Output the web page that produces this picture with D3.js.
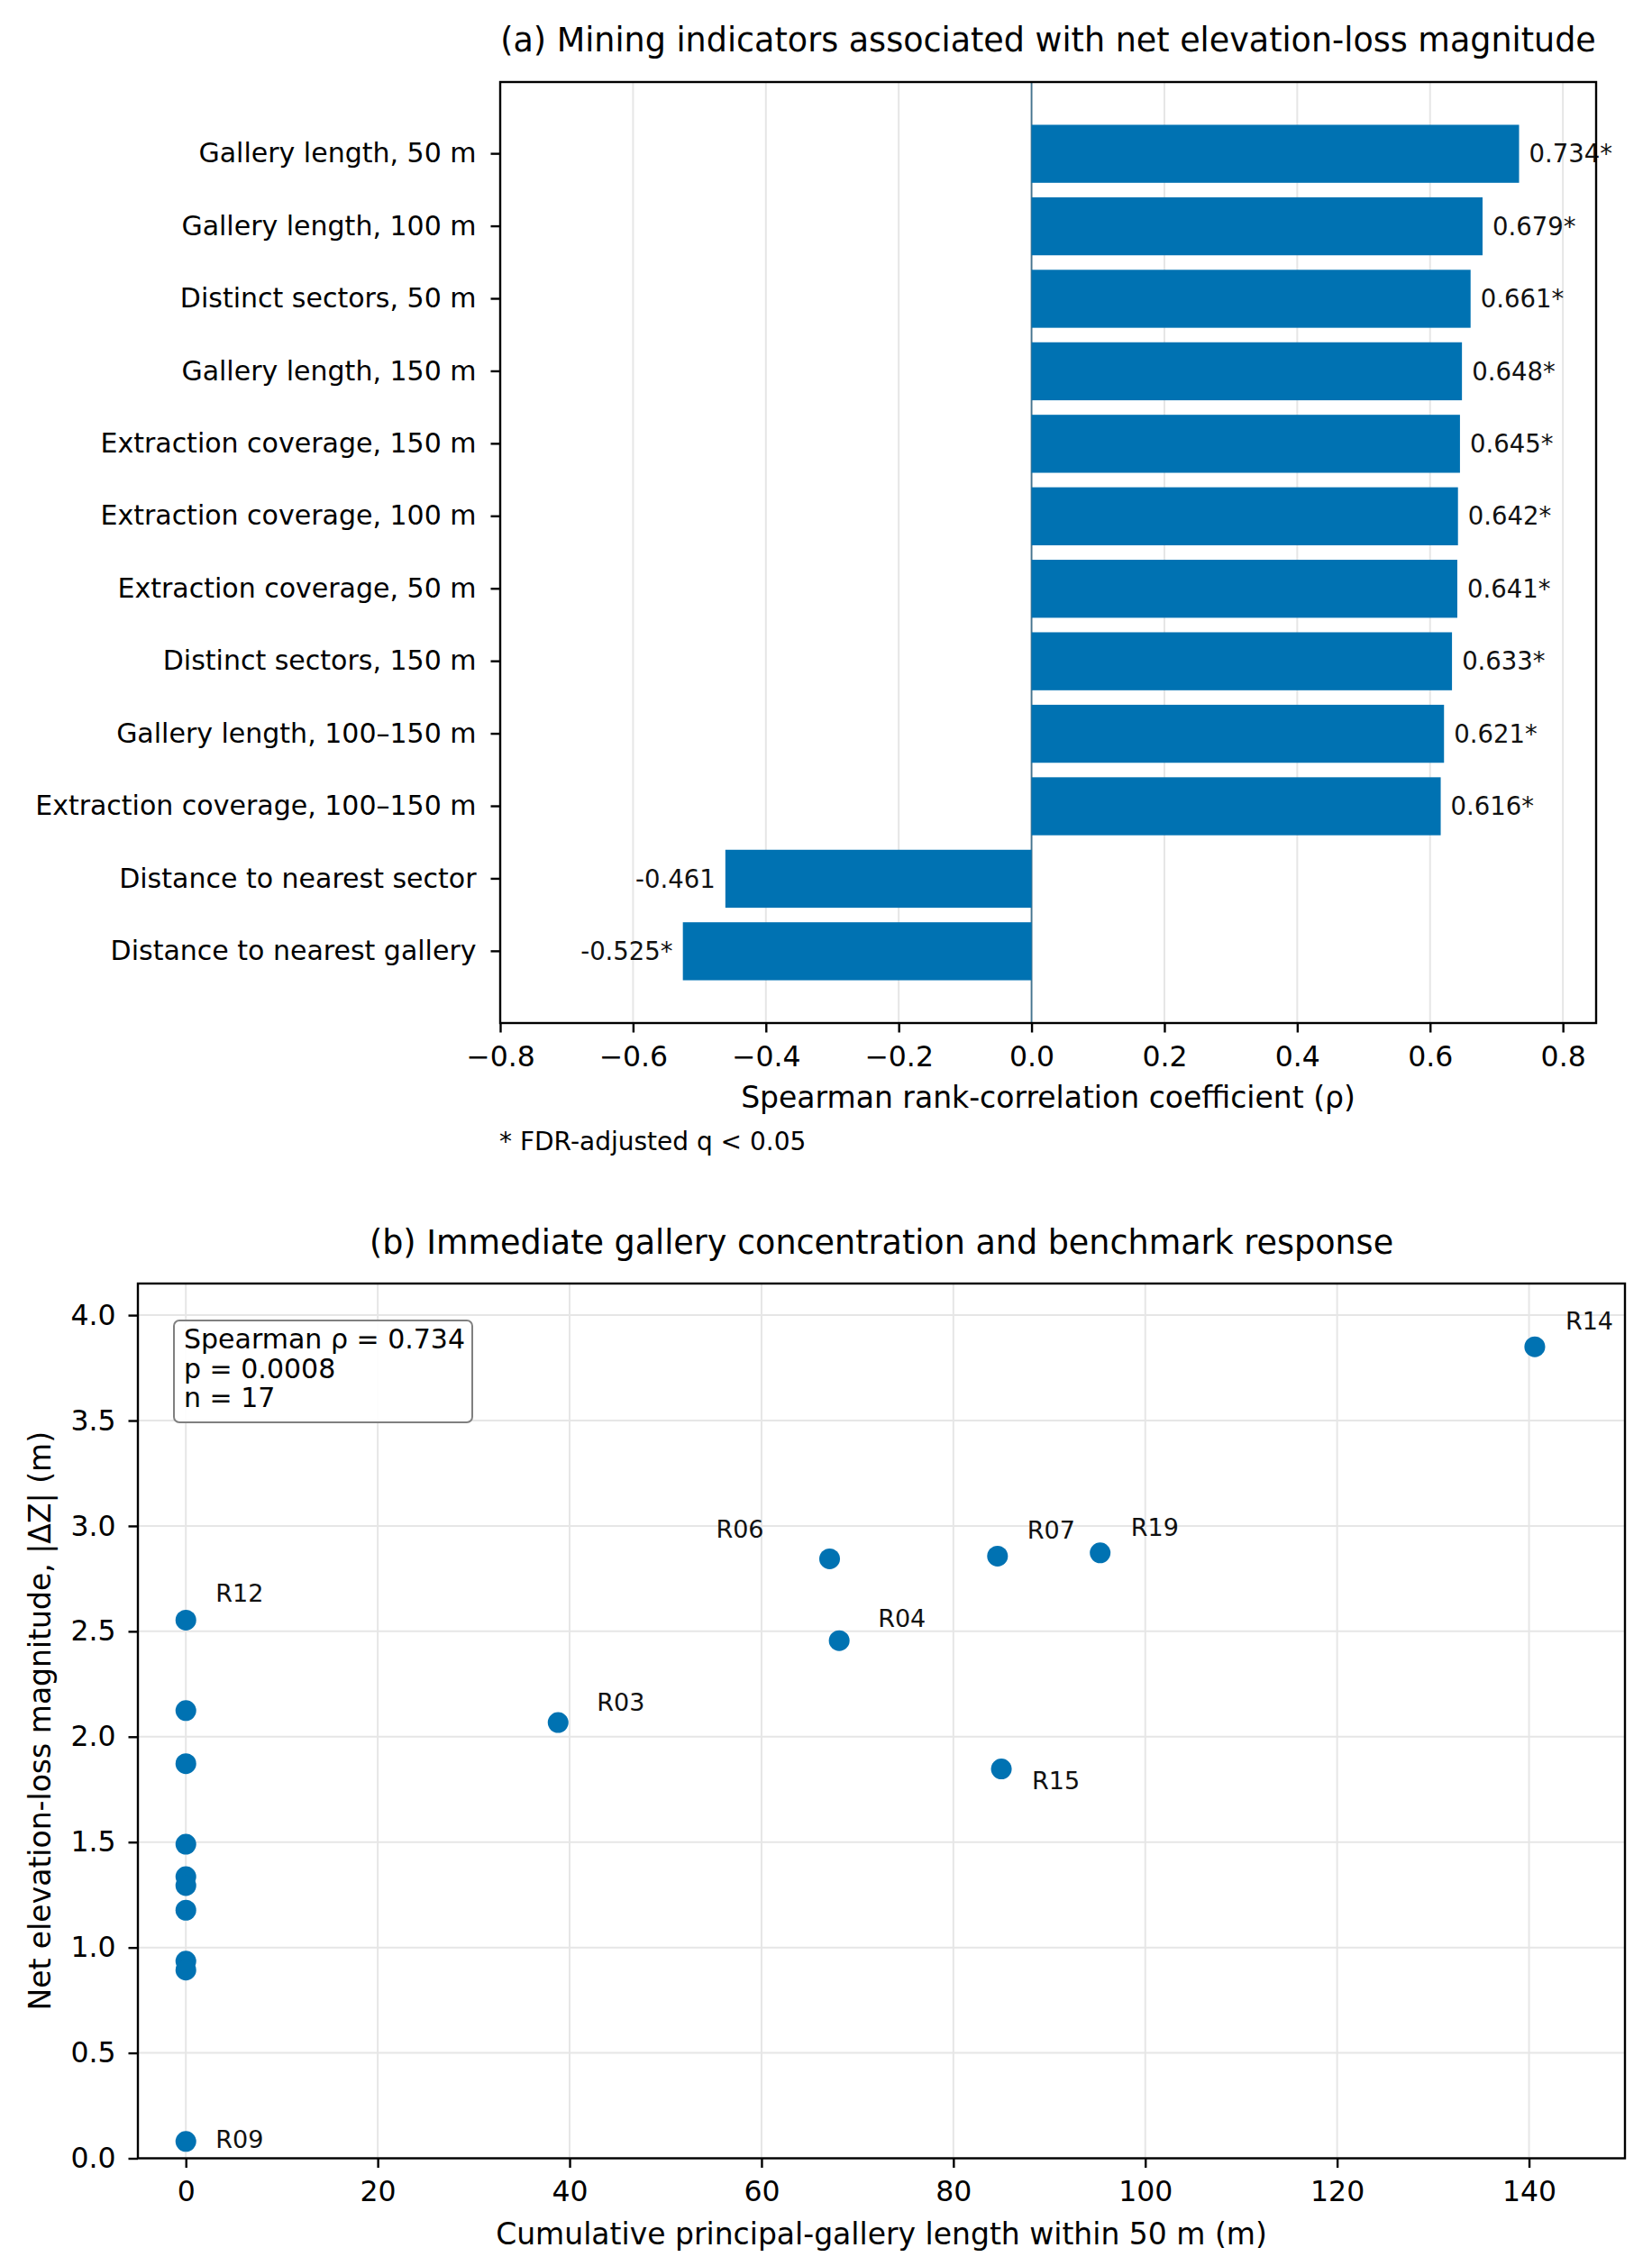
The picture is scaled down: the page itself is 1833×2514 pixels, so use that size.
<!DOCTYPE html>
<html>
<head>
<meta charset="utf-8">
<script src="https://cdn.jsdelivr.net/npm/d3@7"></script>
<style>
  html, body { margin: 0; padding: 0; background: #fff; }
  svg { display: block; font-family: "DejaVu Sans", sans-serif; }
</style>
</head>
<body>
<svg id="fig" width="1833" height="2514"></svg>
<script>

// Panel (a) data
const indicators = [
    "Gallery length, 50 m",
    "Gallery length, 100 m",
    "Distinct sectors, 50 m",
    "Gallery length, 150 m",
    "Extraction coverage, 150 m",
    "Extraction coverage, 100 m",
    "Extraction coverage, 50 m",
    "Distinct sectors, 150 m",
    "Gallery length, 100\u2013150 m",
    "Extraction coverage, 100\u2013150 m",
    "Distance to nearest sector",
    "Distance to nearest gallery"
];
const rhoValues = [0.734, 0.679, 0.661, 0.648, 0.645, 0.642, 0.641, 0.633, 0.621, 0.616, -0.461, -0.525];
const fdrSignificant = [true, true, true, true, true, true, true, true, true, true, false, true];
const rhoTicks = [-0.8, -0.6, -0.4, -0.2, 0.0, 0.2, 0.4, 0.6, 0.8];

// Panel (b) data
const siteLabels    = ["R14", "R19", "R07", "R06", "R04", "R15", "R03", "R12", "", "", "", "", "", "", "", "", "R09"];
const galleryLength = [140.6, 95.3, 84.6, 67.1, 68.1, 85.0, 38.8, 0, 0, 0, 0, 0, 0, 0, 0, 0, 0];
const elevationLoss = [3.85, 2.872, 2.857, 2.844, 2.456, 1.847, 2.067, 2.553, 2.124, 1.872, 1.49, 1.336, 1.294, 1.177, 0.935, 0.893, 0.08];
const lengthTicks = [0, 20, 40, 60, 80, 100, 120, 140];
const lossTicks = [0, 0.5, 1.0, 1.5, 2.0, 2.5, 3.0, 3.5, 4.0];
const statLines = ["Spearman \u03c1 = 0.734", "p = 0.0008", "n = 17"];

// label nudges (px) for the site annotations
const labelNudge = {
    R14: [34, -19, "start"], R19: [34, -19, "start"], R07: [33, -19, "start"],
    R06: [-73, -23, "end"], R04: [43, -15, "start"], R15: [34, 22, "start"],
    R03: [43, -13, "start"], R12: [33, -20, "start"], R09: [33, 7, "start"]
};

const blue = "#0072B2";
const gridColor = "#e6e6e6";

const svg = d3.select("#fig");
svg.append("rect").attr("width", 1833).attr("height", 2514).attr("fill", "#fff");

// helper to style an axis after it's been called
const styleAxis = function(g, fontSize) {
    g.select(".domain").remove();
    g.selectAll(".tick line").attr("stroke", "#000").attr("stroke-width", 2.4);
    g.selectAll(".tick text")
        .attr("fill", "#000")
        .style("font-family", "DejaVu Sans")
        .style("font-size", fontSize + "px");
};

// ---------- Panel (a) ----------
const A = { left: 555, right: 1771, top: 91, bottom: 1135 };

const xA = d3.scaleLinear().domain([-0.8, 0.85]).range([A.left, A.right]);
const yA = d3.scaleBand().domain(indicators).range([A.top, A.bottom])
    .paddingInner(0.2).paddingOuter(0.59);

const gA = svg.append("g");

// vertical grid
gA.selectAll(".gridA").data(rhoTicks).enter()
    .append("line")
    .attr("x1", d => xA(d)).attr("x2", d => xA(d))
    .attr("y1", A.top).attr("y2", A.bottom)
    .attr("stroke", gridColor).attr("stroke-width", 2);

// zero line
gA.append("line")
    .attr("x1", xA(0)).attr("x2", xA(0))
    .attr("y1", A.top).attr("y2", A.bottom)
    .attr("stroke", "#44748f").attr("stroke-width", 1.8);

// bars
gA.selectAll(".bar").data(rhoValues).enter()
    .append("rect")
    .attr("x", d => xA(Math.min(0, d)))
    .attr("width", d => Math.abs(xA(d) - xA(0)))
    .attr("y", (d, i) => yA(indicators[i]))
    .attr("height", yA.bandwidth())
    .attr("fill", blue);

// value labels
gA.selectAll(".vlab").data(rhoValues).enter()
    .append("text")
    .attr("x", d => d >= 0 ? xA(d + 0.015) : xA(d - 0.015))
    .attr("y", (d, i) => yA(indicators[i]) + yA.bandwidth() / 2)
    .attr("dy", "0.35em")
    .attr("text-anchor", d => d >= 0 ? "start" : "end")
    .style("font-size", "27.5px")
    .attr("fill", "#111")
    .text((d, i) => d.toFixed(3) + (fdrSignificant[i] ? "*" : ""));

// frame
gA.append("rect")
    .attr("x", A.left).attr("y", A.top)
    .attr("width", A.right - A.left).attr("height", A.bottom - A.top)
    .attr("fill", "none").attr("stroke", "#000").attr("stroke-width", 2.4);

gA.append("g")
    .attr("transform", `translate(0,${A.bottom})`)
    .call(d3.axisBottom(xA).tickValues(rhoTicks).tickFormat(d3.format(".1f")).tickSize(10.5).tickPadding(15))
    .call(g => styleAxis(g, 31.5));

gA.append("g")
    .attr("transform", `translate(${A.left},0)`)
    .call(d3.axisLeft(yA).tickSize(10.5).tickPadding(16))
    .call(g => styleAxis(g, 30));

gA.append("text")
    .attr("x", (A.left + A.right) / 2).attr("y", 57)
    .attr("text-anchor", "middle").style("font-size", "36.5px")
    .text("(a) Mining indicators associated with net elevation-loss magnitude");

gA.append("text")
    .attr("x", (A.left + A.right) / 2).attr("y", 1229)
    .attr("text-anchor", "middle").style("font-size", "33px")
    .text("Spearman rank-correlation coefficient (\u03c1)");

gA.append("text")
    .attr("x", 554).attr("y", 1276)
    .style("font-size", "28px")
    .text("* FDR-adjusted q < 0.05");

// ---------- Panel (b) ----------
const B = { left: 153, right: 1803, top: 1424, bottom: 2394.5 };

const xB = d3.scaleLinear().domain([-5, 150]).range([B.left, B.right]);
const yB = d3.scaleLinear().domain([0, 4.15]).range([B.bottom, B.top]);

const gB = svg.append("g");

gB.selectAll(".gridBx").data(lengthTicks).enter()
    .append("line")
    .attr("x1", d => xB(d)).attr("x2", d => xB(d))
    .attr("y1", B.top).attr("y2", B.bottom)
    .attr("stroke", gridColor).attr("stroke-width", 2);

gB.selectAll(".gridBy").data(lossTicks).enter()
    .append("line")
    .attr("x1", B.left).attr("x2", B.right)
    .attr("y1", d => yB(d)).attr("y2", d => yB(d))
    .attr("stroke", gridColor).attr("stroke-width", 2);

// points
gB.selectAll(".pt").data(galleryLength).enter()
    .append("circle")
    .attr("cx", d => xB(d))
    .attr("cy", (d, i) => yB(elevationLoss[i]))
    .attr("r", 11.5)
    .attr("fill", blue);

// site labels
siteLabels.forEach(function(lab, i) {
    if (!lab) return;
    const nudge = labelNudge[lab];
    gB.append("text")
        .attr("x", xB(galleryLength[i]) + nudge[0])
        .attr("y", yB(elevationLoss[i]) + nudge[1])
        .attr("text-anchor", nudge[2])
        .style("font-size", "27px")
        .attr("fill", "#111")
        .text(lab);
});

// stats box
const boxX = B.left + 40, boxY = B.top + 41;
gB.append("rect")
    .attr("x", boxX).attr("y", boxY)
    .attr("width", 331).attr("height", 113)
    .attr("rx", 6).attr("ry", 6)
    .attr("fill", "#fff").attr("fill-opacity", 0.9)
    .attr("stroke", "#808080").attr("stroke-width", 2);

gB.selectAll(".stat").data(statLines).enter()
    .append("text")
    .attr("x", boxX + 11)
    .attr("y", (d, i) => boxY + 31 + i * 32.5)
    .style("font-size", "30px")
    .attr("fill", "#000")
    .text(d => d);

gB.append("rect")
    .attr("x", B.left).attr("y", B.top)
    .attr("width", B.right - B.left).attr("height", B.bottom - B.top)
    .attr("fill", "none").attr("stroke", "#000").attr("stroke-width", 2.4);

gB.append("g")
    .attr("transform", `translate(0,${B.bottom})`)
    .call(d3.axisBottom(xB).tickValues(lengthTicks).tickFormat(d3.format("d")).tickSize(10.5).tickPadding(15))
    .call(g => styleAxis(g, 31.5));

gB.append("g")
    .attr("transform", `translate(${B.left},0)`)
    .call(d3.axisLeft(yB).tickValues(lossTicks).tickFormat(d3.format(".1f")).tickSize(10.5).tickPadding(14))
    .call(g => styleAxis(g, 31.5));

gB.append("text")
    .attr("x", (B.left + B.right) / 2).attr("y", 1391)
    .attr("text-anchor", "middle").style("font-size", "36.5px")
    .text("(b) Immediate gallery concentration and benchmark response");

gB.append("text")
    .attr("x", (B.left + B.right) / 2).attr("y", 2490)
    .attr("text-anchor", "middle").style("font-size", "33px")
    .text("Cumulative principal-gallery length within 50 m (m)");

gB.append("text")
    .attr("transform", `translate(56,${(B.top + B.bottom) / 2}) rotate(-90)`)
    .attr("text-anchor", "middle").style("font-size", "33px")
    .text("Net elevation-loss magnitude, |\u0394Z| (m)");

</script>
</body>
</html>
